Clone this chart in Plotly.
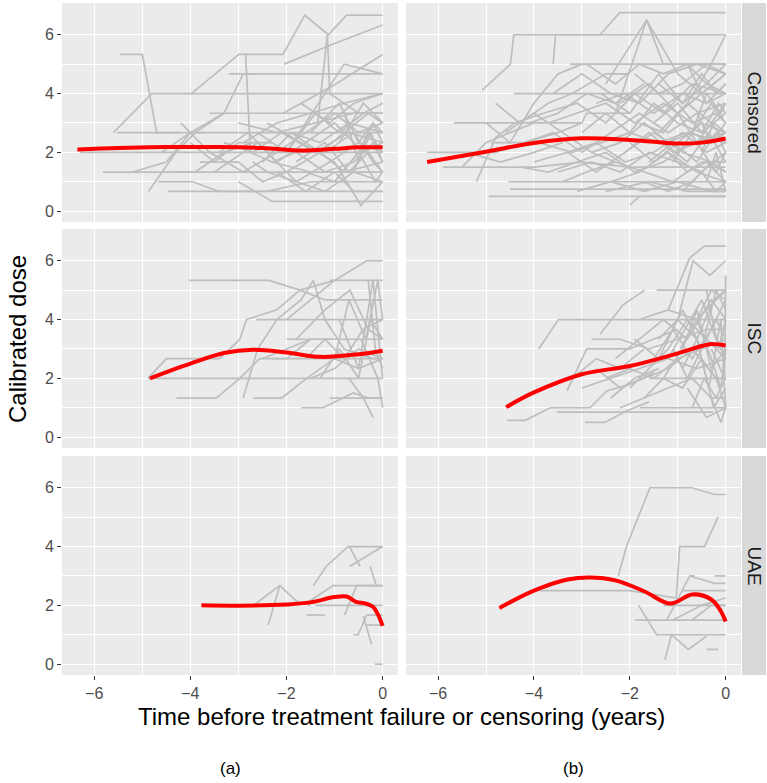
import plotly.graph_objects as go

W, H = 767, 783

# ---------------- data: individual dose trajectories (time, dose) ----------------
censored_a = [
    ([-5.47, -5.0, -4.7, -4.2], [5.33, 5.33, 2.67, 2.67]),
    ([-5.6, -4.8, -3.2, -2.6, 0], [2.67, 4.0, 4.0, 4.0, 4.0]),
    ([-5.53, -3.5, -1.5, 0], [2.67, 2.67, 2.67, 2.67]),
    ([-5.82, -3.0, 0], [1.33, 1.33, 1.33]),
    ([-6.3, -4.5, -3.0, -1.5, 0], [2.0, 2.0, 2.0, 2.0, 2.0]),
    ([-4.67, -3.95, -3.4, -2.4, -1.5, 0], [1.0, 1.0, 0.67, 0.67, 1.0, 1.0]),
    ([-4.47, -2.0, 0], [0.67, 0.67, 0.67]),
    ([-3.0, -2.3, -1.9, 0], [1.0, 0.33, 0.33, 0.33]),
    ([-4.87, -4.3, -3.9, -3.3], [0.67, 2.0, 2.67, 3.33]),
    ([-3.98, -2.99, -2.07, -1.62, -1.13, -0.75, 0], [4.0, 5.33, 5.33, 6.67, 6.0, 6.67, 6.67]),
    ([-2.05, -1.0, 0], [5.0, 5.7, 6.33]),
    ([-3.2, -1.5, 0], [4.67, 4.67, 4.67]),
    ([-1.35, -1.15, -1.1, -0.5, 0], [3.0, 6.0, 4.0, 3.33, 3.33]),
    ([-2.07, -1.0, 0], [3.33, 4.3, 5.33]),
    ([-2.0, -0.8, 0], [2.0, 5.0, 4.67]),
    ([-3.6, -2.0, 0], [3.33, 3.33, 3.33]),
    ([-2.85, -2.75, -2.3, -1.5], [5.33, 2.0, 1.67, 1.33]),
    ([-4.6, -4.0, -3.3, -2.9, -2.6], [2.0, 2.67, 3.33, 4.67, 4.67]),
    ([-5.2, -4.5, -4.0, -3.7], [1.33, 1.67, 2.67, 2.67]),
    ([-4.2, -3.6, -2.9, -2.2, -1.6, -1.0, -0.5, 0], [3.0, 2.0, 1.33, 2.0, 2.67, 3.33, 2.67, 3.0]),
    ([-3.4, -2.8, -2.2, -1.6, -1.0, -0.4, 0], [2.0, 2.67, 1.67, 2.33, 3.0, 2.0, 2.33]),
    ([-3.8, -3.0, -2.5, -2.0, -1.3, -0.8, 0], [1.67, 1.67, 1.0, 1.33, 2.0, 1.33, 1.67]),
    ([-2.6, -2.0, -1.4, -0.9, -0.4, 0], [2.67, 2.0, 3.33, 2.67, 3.33, 3.67]),
    ([-1.8, -1.2, -0.7, -0.3, 0], [1.67, 2.33, 1.33, 2.0, 1.33]),
    ([-2.4, -1.7, -1.0, -0.45, 0], [3.0, 2.33, 1.67, 0.2, 1.0]),
    ([-1.5, -0.9, -0.5, -0.2, 0], [2.67, 3.67, 2.33, 3.0, 2.67]),
    ([-2.9, -2.2, -1.5, -0.8, 0], [2.33, 3.0, 3.33, 3.67, 4.0]),
    ([-1.2, -0.6, -0.2, 0], [2.0, 2.67, 1.67, 1.33]),
    ([-3.5, -2.6, -1.8, -1.1, -0.5, 0], [1.33, 2.33, 1.0, 1.67, 2.33, 2.0]),
    ([-1.0, -0.5, -0.2, 0], [1.0, 2.0, 3.0, 2.33]),
    ([-2.2, -1.6, -1.0, -0.6, 0], [1.33, 0.67, 1.33, 0.67, 0.67]),
    ([-4.0, -3.5, -3.0, -2.3], [2.33, 1.67, 2.33, 2.33]),
    ([-0.8, -0.5, -0.25, 0], [3.33, 1.67, 2.67, 1.67]),
    ([-1.7, -1.1, -0.6, 0], [3.67, 3.0, 3.67, 4.0]),
    ([-2.5, -1.9, -1.3, -0.7, 0], [1.67, 2.67, 2.33, 3.0, 2.67]),
    ([-0.6, -0.3, 0], [1.33, 2.67, 2.0]),
    ([-3.3, -2.7, -2.1, -1.4, -0.7, 0], [2.33, 2.0, 2.67, 2.0, 2.67, 2.33]),
    ([-2.3, -1.8, -1.2, -0.6, -0.2, 0], [1.67, 2.0, 1.33, 1.67, 2.33, 1.67]),
    ([-1.9, -1.3, -0.8, -0.3, 0], [2.67, 2.0, 2.67, 3.33, 3.0]),
    ([-1.6, -1.0, -0.5, -0.15, 0], [1.33, 1.0, 2.0, 1.0, 1.33]),
    ([-3.0, -2.2, -1.4, -0.6, 0], [3.0, 2.67, 3.0, 3.33, 3.33]),
    ([-0.9, -0.4, 0], [2.33, 3.67, 3.0]),
    ([-4.4, -3.9, -3.3, -2.7], [1.33, 1.33, 2.0, 2.33]),
    ([-2.7, -2.4, -1.8, -1.2, -0.6, 0], [1.67, 1.33, 1.0, 0.67, 1.33, 1.0]),
]

censored_b = [
    ([-6.23, -5.5, -4.8, -4.2], [2.0, 2.0, 2.0, 2.33]),
    ([-5.9, -5.0, -4.0, -3.0, -2.0, -1.0, 0], [1.5, 1.5, 1.5, 1.67, 1.5, 1.5, 1.5]),
    ([-5.67, -4.5, -3.0, -2.9, -2.0], [3.0, 3.0, 3.0, 3.33, 3.33]),
    ([-5.08, -4.49, -4.42, -3.0, -2.62, -2.21, 0], [4.12, 5.0, 6.0, 6.0, 6.0, 6.75, 6.75]),
    ([-3.6, -3.55, 0], [5.0, 6.0, 6.0]),
    ([-3.25, -1.5, 0], [5.0, 5.0, 5.0]),
    ([-4.42, -3.0, -1.0, 0], [4.0, 4.0, 4.0, 4.0]),
    ([-5.2, -4.8, -4.4, -3.8], [1.0, 2.5, 3.0, 3.33]),
    ([-4.53, -2.0, 0], [1.0, 1.0, 1.0]),
    ([-4.5, -2.0, 0], [0.75, 0.75, 0.75]),
    ([-4.94, -2.5, 0], [0.5, 0.5, 0.5]),
    ([-2.0, -1.8, 0], [0.2, 0.5, 0.5]),
    ([-2.3, -1.65, -1.3, 0], [3.33, 6.5, 5.0, 5.0]),
    ([-2.5, -1.65, -1.0, -0.5, 0], [4.33, 6.5, 4.67, 4.0, 4.67]),
    ([-1.4, -0.8, -0.3, 0], [2.67, 3.67, 5.0, 6.0]),
    ([-5.5, -5.0, -4.5, -4.0], [1.5, 2.33, 2.67, 3.0]),
    ([-5.0, -4.5, -4.0, -3.5, -3.0], [3.0, 2.33, 3.67, 4.67, 5.0]),
    ([-4.8, -4.3, -3.7, -3.2, -2.5, -2.0], [3.67, 3.0, 3.67, 4.0, 4.67, 4.67]),
    ([-4.2, -3.6, -3.0, -2.4, -1.8, -1.2, -0.6, 0], [2.33, 2.67, 2.0, 2.67, 3.33, 2.67, 3.33, 3.67]),
    ([-4.0, -3.3, -2.7, -2.1, -1.5, -0.9, -0.4, 0], [1.67, 2.0, 2.33, 1.67, 2.0, 2.67, 2.0, 2.33]),
    ([-3.8, -3.1, -2.5, -1.9, -1.3, -0.7, 0], [3.33, 3.67, 3.0, 4.0, 3.33, 4.33, 4.0]),
    ([-3.5, -2.8, -2.2, -1.6, -1.0, -0.5, 0], [1.33, 1.67, 1.33, 2.0, 1.67, 1.33, 2.0]),
    ([-3.0, -2.5, -2.0, -1.5, -1.0, -0.5, 0], [2.67, 3.33, 2.67, 3.67, 3.0, 2.67, 3.33]),
    ([-2.8, -2.2, -1.7, -1.2, -0.7, -0.3, 0], [2.0, 2.33, 3.0, 2.33, 2.67, 3.67, 3.0]),
    ([-2.6, -2.0, -1.4, -0.9, -0.4, 0], [4.0, 3.33, 4.67, 3.67, 4.33, 5.0]),
    ([-2.4, -1.8, -1.2, -0.6, 0], [1.0, 1.33, 2.0, 1.33, 1.0]),
    ([-2.2, -1.6, -1.0, -0.5, 0], [3.67, 4.33, 3.33, 4.0, 4.67]),
    ([-2.0, -1.5, -1.0, -0.5, 0], [2.33, 1.67, 2.33, 3.0, 2.67]),
    ([-1.8, -1.3, -0.8, -0.3, 0], [3.0, 2.67, 3.67, 3.0, 3.67]),
    ([-1.6, -1.1, -0.6, -0.2, 0], [1.67, 2.33, 1.67, 2.67, 2.0]),
    ([-1.4, -0.9, -0.5, -0.2, 0], [4.33, 3.67, 4.67, 4.0, 4.33]),
    ([-1.2, -0.8, -0.4, 0], [2.0, 1.33, 1.67, 1.0]),
    ([-1.0, -0.6, -0.3, 0], [3.33, 2.33, 3.0, 2.33]),
    ([-0.9, -0.5, -0.2, 0], [0.67, 1.33, 0.67, 1.0]),
    ([-0.7, -0.4, -0.1, 0], [2.67, 4.0, 3.33, 3.67]),
    ([-3.3, -2.7, -2.1, -1.5, -0.9, -0.3, 0], [2.0, 1.33, 2.0, 2.67, 2.0, 1.67, 1.33]),
    ([-3.6, -3.0, -2.4, -1.8, -1.2, -0.6, 0], [4.0, 4.67, 4.0, 3.67, 4.67, 5.0, 4.67]),
    ([-4.6, -4.0, -3.4, -2.8, -2.3], [2.67, 3.33, 2.67, 2.0, 1.67]),
    ([-5.4, -4.7, -4.0, -3.4], [2.0, 1.67, 2.0, 2.33]),
    ([-4.3, -3.7, -3.1, -2.5, -1.9, -1.3, -0.7, 0], [1.5, 1.33, 1.67, 2.0, 1.33, 1.67, 2.33, 2.67]),
    ([-2.9, -2.3, -1.8, -1.3, -0.8, -0.4, 0], [5.0, 4.33, 5.0, 4.67, 5.0, 4.33, 4.0]),
    ([-1.7, -1.2, -0.7, -0.3, 0], [1.0, 0.67, 1.0, 1.67, 1.33]),
    ([-3.9, -3.2, -2.6, -2.0, -1.4, -0.8, 0], [2.33, 2.0, 2.33, 2.67, 2.33, 2.67, 2.33]),
    ([-0.5, -0.25, 0], [2.0, 3.0, 2.67]),
    ([-0.8, -0.4, 0], [5.0, 3.67, 4.33]),
    ([-2.5, -1.6, -0.8, 0], [0.67, 1.0, 0.67, 0.67]),
    ([-1.1, -0.7, -0.3, 0], [1.67, 2.67, 2.33, 3.0]),
    ([-4.9, -4.2, -3.5, -3.0], [2.33, 2.33, 2.67, 3.0]),
    ([-3.7, -3.1, -2.5, -1.9, -1.3, -0.7, -0.2, 0], [3.0, 3.33, 3.67, 3.0, 3.67, 3.0, 3.33, 3.0]),
    ([-3.4, -2.9, -2.3, -1.7, -1.1, -0.5, 0], [1.0, 1.33, 1.67, 1.33, 1.0, 1.67, 1.67]),
    ([-2.7, -2.1, -1.5, -0.9, -0.4, 0], [3.67, 4.0, 3.33, 4.0, 3.67, 4.0]),
    ([-2.1, -1.6, -1.1, -0.6, -0.2, 0], [2.0, 2.67, 2.0, 2.33, 1.33, 2.0]),
    ([-1.5, -1.0, -0.5, -0.15, 0], [3.0, 3.67, 2.67, 3.67, 3.33]),
    ([-1.3, -0.8, -0.35, 0], [2.33, 1.67, 2.67, 1.67]),
    ([-0.6, -0.3, 0], [3.33, 2.33, 2.67]),
    ([-4.1, -3.5, -2.9, -2.3, -1.7], [3.0, 3.33, 4.0, 3.67, 4.33]),
    ([-1.9, -1.4, -0.9, -0.4, 0], [4.67, 4.0, 4.33, 5.0, 4.67]),
    ([-0.4, -0.2, 0], [1.0, 2.0, 0.67]),
    ([-3.1, -2.4, -1.7, -1.0, -0.3, 0], [0.67, 1.0, 0.67, 1.0, 0.67, 0.67]),
]

isc_a = [
    ([-4.03, -2.36, -1.72, -1.2, -0.6, 0], [5.33, 5.33, 5.0, 4.67, 4.67, 4.67]),
    ([-4.88, -4.5, -3.39, -2.97, -2.83, -2.2, -1.72, -1.0], [2.0, 2.67, 2.67, 3.33, 4.0, 4.33, 5.0, 5.33]),
    ([-4.88, -3.0, -1.5, 0], [2.0, 2.0, 2.0, 2.0]),
    ([-4.29, -3.46, -2.97, -2.56, -2.0, -1.5], [1.33, 1.33, 2.0, 2.67, 2.67, 3.33]),
    ([-2.63, -1.0, 0], [4.0, 4.0, 4.0]),
    ([-2.69, -2.1, -1.58, -1.0, -0.5, 0], [1.33, 1.33, 2.0, 2.67, 2.33, 2.67]),
    ([-1.69, -1.24, -0.61, -0.3, 0], [1.0, 1.0, 1.5, 1.33, 1.33]),
    ([-1.1, 0], [1.33, 1.33]),
    ([-2.0, -1.0, -0.33, 0], [4.0, 5.33, 6.0, 6.0]),
    ([-1.1, -0.5, 0], [5.33, 5.33, 5.33]),
    ([-2.9, -2.6, -2.2, -1.7, -1.44, -1.2, -0.8, -0.2, 0], [1.33, 3.0, 4.0, 4.67, 5.33, 4.0, 3.0, 2.67, 2.67]),
    ([-1.8, -1.2, -0.68, -0.3, 0], [3.33, 4.33, 5.0, 3.67, 3.33]),
    ([-0.7, -0.4, -0.2], [2.0, 1.33, 0.67]),
    ([-0.45, -0.1, 0], [3.33, 2.0, 1.0]),
    ([-2.0, -1.0, 0], [3.33, 3.33, 3.33]),
    ([-2.3, -1.5, 0], [2.67, 2.67, 2.67]),
    ([-1.3, -0.9, -0.5, -0.25, 0], [2.0, 3.0, 2.0, 4.0, 3.33]),
    ([-1.0, -0.7, -0.35, -0.1, 0], [2.67, 4.67, 3.33, 5.33, 4.0]),
    ([-0.9, -0.5, -0.2, 0], [4.0, 2.33, 5.33, 2.0]),
    ([-1.6, -1.2, -0.8, -0.4, 0], [2.67, 3.33, 2.67, 3.67, 4.0]),
    ([-0.3, -0.15, 0], [5.33, 3.0, 2.33]),
    ([-2.5, -2.0, -1.5, -1.0], [2.67, 3.0, 3.33, 3.33]),
    ([-1.5, -1.0, -0.5, 0], [2.0, 2.33, 3.0, 2.67]),
]

isc_b = [
    ([-4.56, -4.18, -3.66, -2.83, -2.48, -2.0, -1.5], [0.57, 0.57, 1.0, 1.0, 1.57, 1.8, 2.2]),
    ([-3.52, -0.26], [0.85, 0.85]),
    ([-2.93, -2.52, -2.07, -1.6], [0.5, 0.5, 0.89, 1.2]),
    ([-3.9, -3.49, 0], [3.0, 4.0, 4.0]),
    ([-3.31, -2.9, -2.0, -1.5, -1.0], [1.57, 3.0, 3.0, 3.33, 3.67]),
    ([-2.62, -2.14, -1.69], [3.5, 4.5, 5.0]),
    ([-1.79, 0], [1.0, 1.0]),
    ([-1.2, -0.75, -0.44, 0], [4.33, 6.1, 6.5, 6.5]),
    ([-1.0, -0.68, -0.33, 0], [4.0, 6.0, 5.5, 6.0]),
    ([-1.44, -0.5, 0], [5.0, 5.0, 5.0]),
    ([-0.3, -0.02, 0], [3.0, 2.0, 5.5]),
    ([-2.5, -2.0, -1.5, -1.0, -0.5, 0], [2.0, 2.33, 2.0, 2.67, 3.0, 3.33]),
    ([-2.3, -1.8, -1.3, -0.8, -0.3, 0], [2.67, 3.33, 4.0, 3.33, 4.67, 4.0]),
    ([-2.0, -1.6, -1.2, -0.8, -0.4, 0], [1.67, 2.33, 3.0, 4.0, 3.33, 2.67]),
    ([-1.9, -1.4, -0.9, -0.5, -0.2, 0], [3.33, 2.67, 4.33, 3.0, 4.0, 3.33]),
    ([-1.7, -1.3, -0.9, -0.5, -0.2, 0], [1.33, 2.0, 1.67, 2.67, 2.0, 1.0]),
    ([-1.5, -1.1, -0.7, -0.3, 0], [2.67, 3.67, 2.67, 3.67, 4.67]),
    ([-1.3, -0.9, -0.6, -0.3, 0], [2.0, 3.0, 4.33, 2.33, 3.0]),
    ([-1.1, -0.8, -0.5, -0.2, 0], [3.0, 2.0, 3.0, 5.0, 4.33]),
    ([-0.9, -0.6, -0.35, -0.1, 0], [2.33, 3.33, 1.67, 4.0, 1.0]),
    ([-0.7, -0.45, -0.2, 0], [1.0, 2.0, 1.33, 2.0]),
    ([-0.6, -0.3, -0.1, 0], [4.0, 2.67, 1.67, 3.0]),
    ([-3.0, -2.4, -1.8, -1.2, -0.6, 0], [1.67, 2.0, 2.33, 2.67, 2.33, 2.67]),
    ([-2.7, -2.2, -1.7, -1.2, -0.7, -0.2, 0], [2.33, 1.67, 2.0, 2.33, 3.0, 2.0, 2.0]),
    ([-2.2, -1.7, -1.2, -0.7, -0.3, 0], [1.0, 1.33, 1.67, 2.0, 1.33, 1.33]),
    ([-1.6, -1.0, -0.4, 0], [2.0, 2.0, 2.0, 2.0]),
    ([-2.8, -2.2, -1.6, -1.0, -0.4, 0], [3.33, 3.33, 3.0, 3.33, 3.67, 3.67]),
    ([-0.5, -0.25, 0], [2.67, 1.0, 1.67]),
    ([-0.4, -0.15, 0], [5.0, 3.0, 4.0]),
    ([-1.8, -1.2, -0.6, 0], [4.0, 4.33, 4.0, 5.0]),
    ([-3.2, -2.7, -2.2, -1.7], [2.0, 2.67, 2.33, 3.0]),
    ([-0.8, -0.4, 0], [1.67, 0.67, 1.0]),
    ([-0.3, -0.1, 0], [1.33, 0.5, 1.0]),
    ([-1.4, -1.0, -0.6, -0.25, 0], [3.33, 4.0, 3.33, 4.67, 5.0]),
    ([-1.2, -0.85, -0.5, -0.2, 0], [2.67, 3.67, 4.67, 3.33, 2.67]),
    ([-0.95, -0.6, -0.3, 0], [3.0, 4.0, 5.0, 4.67]),
    ([-2.4, -1.9, -1.4], [1.33, 2.0, 2.33]),
]

uae_a = [
    ([-2.69, -2.14, -1.79, -1.5], [2.0, 2.67, 2.14, 2.0]),
    ([-2.38, -2.14], [1.33, 2.67]),
    ([-1.44, -1.17, -0.72, 0], [2.67, 3.33, 4.0, 4.0]),
    ([-0.69, -0.47], [4.0, 3.33]),
    ([-0.68, 0], [3.33, 4.0]),
    ([-1.58, -1.03, 0], [2.08, 2.67, 2.67]),
    ([-1.58, -1.2], [1.67, 1.67]),
    ([-0.26, -0.13], [3.33, 2.67]),
    ([-0.79, -0.54, -0.35, 0], [1.67, 2.67, 2.67, 2.67]),
    ([-0.61, -0.51, -0.33, 0], [1.0, 1.0, 1.67, 1.67]),
    ([-0.33, 0], [1.33, 1.33]),
    ([-0.4, -0.23], [1.63, 0.67]),
    ([-0.16, 0], [0.0, 0.0]),
    ([-1.4, -0.8, 0], [2.0, 2.0, 2.0]),
]

uae_b = [
    ([-2.24, -2.07, -1.58, -0.71, -0.23, 0], [3.0, 4.0, 6.0, 6.0, 5.77, 5.77]),
    ([-3.87, -2.0, -1.03, -0.96, -0.44, -0.16], [2.5, 2.5, 2.25, 4.0, 4.0, 5.0]),
    ([-1.82, -1.44, 0], [2.0, 1.0, 1.0]),
    ([-1.89, 0], [1.5, 1.5]),
    ([-1.27, -1.13, -0.78, -0.4], [0.15, 1.0, 0.5, 0.95]),
    ([-0.4, -0.16], [0.5, 0.5]),
    ([-1.23, -0.75, -0.23, 0], [1.5, 3.0, 2.75, 2.75]),
    ([-0.23, 0], [3.0, 3.0]),
    ([-0.9, 0], [2.5, 2.5]),
    ([-1.3, 0], [2.0, 2.0]),
    ([-1.1, -0.5, 0], [1.5, 2.0, 2.25]),
    ([-0.7, -0.3, 0], [1.5, 2.0, 2.0]),
    ([-0.75, -0.65], [3.0, 3.0]),
]

# ---------------- data: smoothed mean curves ----------------
smooth_censored_a = ([-6.35, -5.5, -4.5, -3.5, -2.5, -1.7, -1.0, -0.5, 0], [2.1, 2.15, 2.18, 2.18, 2.15, 2.06, 2.12, 2.17, 2.17])
smooth_censored_b = ([-6.23, -5.0, -4.0, -3.0, -2.0, -1.5, -1.0, -0.5, 0], [1.67, 2.02, 2.32, 2.48, 2.42, 2.36, 2.3, 2.33, 2.47])
smooth_isc_a = ([-4.84, -4.0, -3.3, -2.7, -2.0, -1.3, -0.5, 0], [2.0, 2.5, 2.86, 2.97, 2.88, 2.73, 2.82, 2.94])
smooth_isc_b = ([-4.58, -4.0, -3.0, -2.0, -1.0, -0.5, -0.3, 0], [1.02, 1.52, 2.14, 2.42, 2.85, 3.1, 3.17, 3.12])
smooth_uae_a = ([-3.77, -3.0, -2.0, -1.5, -1.0, -0.75, -0.55, -0.35, -0.2, -0.1, 0], [2.0, 1.99, 2.03, 2.1, 2.28, 2.3, 2.12, 2.06, 1.95, 1.7, 1.3])
smooth_uae_b = ([-4.72, -4.0, -3.3, -2.83, -2.3, -1.7, -1.15, -0.7, -0.3, -0.1, 0], [1.91, 2.5, 2.88, 2.95, 2.85, 2.48, 2.06, 2.37, 2.2, 1.8, 1.45])

row_labels = ["Censored", "ISC", "UAE"]
col_labels = ["(a)", "(b)"]
x_ticks = [-6, -4, -2, 0]
x_ticktext = ["\u22126", "\u22124", "\u22122", "0"]
y_ticks = [0, 2, 4, 6]
x_title = "Time before treatment failure or censoring (years)"
y_title = "Calibrated dose"

panels = [
    [(censored_a, smooth_censored_a), (censored_b, smooth_censored_b)],
    [(isc_a, smooth_isc_a), (isc_b, smooth_isc_b)],
    [(uae_a, smooth_uae_a), (uae_b, smooth_uae_b)],
]

# ---------------- layout geometry (pixels) ----------------
col_px = [(62, 398), (406, 741)]
row_px = [(3, 222), (229, 448), (456, 675)]
strip_px = (742, 766)
FONT = "Liberation Sans, Arial, Helvetica, sans-serif"

fig = go.Figure()
layout = dict(
    width=W, height=H, margin=dict(l=0, r=0, t=0, b=0, autoexpand=False),
    paper_bgcolor="white", plot_bgcolor="#EBEBEB", showlegend=False,
    font=dict(family=FONT), shapes=[], annotations=[],
)

for r in range(3):
    for c in range(2):
        k = r * 2 + c + 1
        lines, smooth = panels[r][c]
        for t, d in lines:
            fig.add_trace(go.Scatter(x=t, y=d, mode="lines", xaxis=f"x{k}", yaxis=f"y{k}",
                                     line=dict(color="#BEBEBE", width=1.7), hoverinfo="skip"))
        fig.add_trace(go.Scatter(x=smooth[0], y=smooth[1], mode="lines", xaxis=f"x{k}", yaxis=f"y{k}",
                                 line=dict(color="#FF0000", width=4, shape="spline", smoothing=1.0),
                                 hoverinfo="skip"))
        xd = [col_px[c][0] / W, col_px[c][1] / W]
        yd = [1 - row_px[r][1] / H, 1 - row_px[r][0] / H]
        sfx = "" if k == 1 else str(k)
        layout["xaxis" + sfx] = dict(
            domain=xd, anchor=f"y{k}", range=[-6.67, 0.32], zeroline=False,
            tickvals=x_ticks, ticktext=x_ticktext, showgrid=True, gridcolor="white", gridwidth=1.1,
            ticks="outside" if r == 2 else "", ticklen=4, tickcolor="#333333", tickwidth=1,
            showticklabels=(r == 2), tickfont=dict(size=16, color="#4D4D4D", family=FONT),
            minor=dict(tickvals=[-5, -3, -1], showgrid=True, gridcolor="white", gridwidth=0.55, ticks=""),
            showline=False, fixedrange=True, automargin=False,
        )
        layout["yaxis" + sfx] = dict(
            domain=yd, anchor=f"x{k}", range=[-0.37, 7.08], zeroline=False,
            tickvals=y_ticks, showgrid=True, gridcolor="white", gridwidth=1.1,
            ticks="outside" if c == 0 else "", ticklen=4, tickcolor="#333333", tickwidth=1,
            showticklabels=(c == 0), tickfont=dict(size=16, color="#4D4D4D", family=FONT),
            minor=dict(tickvals=[1, 3, 5], showgrid=True, gridcolor="white", gridwidth=0.55, ticks=""),
            showline=False, fixedrange=True, automargin=False,
        )
    # strip
    layout["shapes"].append(dict(type="rect", xref="paper", yref="paper",
                                 x0=strip_px[0] / W, x1=strip_px[1] / W,
                                 y0=1 - row_px[r][1] / H, y1=1 - row_px[r][0] / H,
                                 fillcolor="#D9D9D9", line=dict(width=0), layer="below"))
    layout["annotations"].append(dict(text=row_labels[r], xref="paper", yref="paper",
                                      x=(strip_px[0] + strip_px[1]) / 2 / W,
                                      y=1 - (row_px[r][0] + row_px[r][1]) / 2 / H,
                                      xanchor="center", yanchor="middle",
                                      textangle=90, showarrow=False,
                                      font=dict(size=19, color="#1A1A1A", family=FONT)))

layout["annotations"].append(dict(text=y_title, xref="paper", yref="paper", x=17 / W, y=1 - 339 / H,
                                  xanchor="center", yanchor="middle",
                                  textangle=-90, showarrow=False,
                                  font=dict(size=24, color="black", family=FONT)))
layout["annotations"].append(dict(text=x_title, xref="paper", yref="paper", x=401.5 / W, y=1 - 716 / H,
                                  xanchor="center", yanchor="middle",
                                  showarrow=False, font=dict(size=24, color="black", family=FONT)))
for c in range(2):
    layout["annotations"].append(dict(text=col_labels[c], xref="paper", yref="paper",
                                      x=(col_px[c][0] + col_px[c][1]) / 2 / W, y=1 - 768 / H,
                                      xanchor="center", yanchor="middle",
                                      showarrow=False, font=dict(size=17, color="black", family=FONT)))

fig.update_layout(**layout)
fig.write_html("out.html", config={"displayModeBar": False},
               post_script="document.body.style.margin='0';document.body.style.overflow='hidden';")
